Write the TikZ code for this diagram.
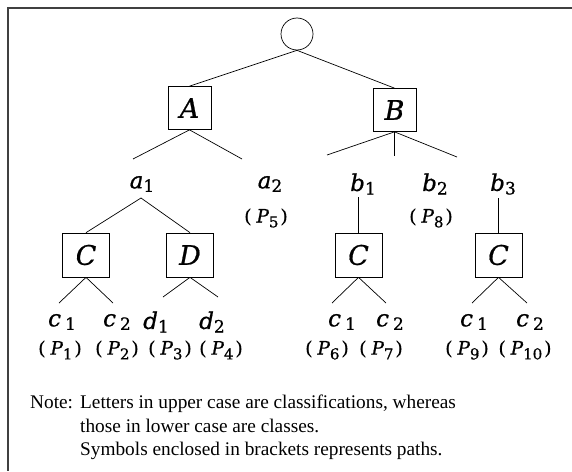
\documentclass[tikz,border=0pt]{standalone}
\usepackage{fontspec}
\setmainfont{Liberation Serif}
\newfontfamily\lblfont[FakeBold=0.8]{DejaVu Serif}
\usetikzlibrary{calc}
\newcommand{\lsub}[1]{\raisebox{-0.3ex}{\fontsize{17}{17}\selectfont\upshape #1}}
\newcommand{\psub}[1]{\raisebox{-0.5ex}{\fontsize{15}{15}\selectfont\upshape #1}}
\newcommand{\pth}[2]{(\hspace{5pt}{\itshape #1}\psub{#2}\hspace{2pt})}
\begin{document}
\begin{tikzpicture}[x=1pt,y=-1pt,
  frame/.style={draw=black!75,line width=1.4pt},
  conn/.style={draw=black,line width=0.7pt},
  cls/.style={draw=black,line width=0.7pt,minimum width=43pt,minimum height=43pt,inner sep=0pt,font=\lblfont\fontsize{27}{27}\selectfont\itshape},
  clsw/.style={cls,minimum width=47pt,minimum height=44pt},
  lbl/.style={inner sep=0pt,font=\lblfont\fontsize{23}{23}\selectfont\itshape},
  pathlbl/.style={inner sep=0pt,font=\lblfont\fontsize{18.5}{18.5}\selectfont},
  note/.style={inner sep=0pt,anchor=base west,font=\fontsize{19.3}{19.3}\selectfont}]
\useasboundingbox (0,0) rectangle (572,471);
\fill[white] (0,0) rectangle (572,471);
\draw[frame] (572,8) -- (8,8) -- (8,471);
% root
\node[draw,circle,line width=0.7pt,minimum size=32pt,inner sep=0pt] (root) at (297,34) {};
\node[cls] (A) at (189.5,108) {A};
\node[cls] (B) at (394.5,110) {B};
\draw[conn] (root.south) -- (A.north);
\draw[conn] (root.south) -- (B.north);
% level labels
\node[lbl] (a1) at (142,184) {a\lsub{1}};
\node[lbl] (a2) at (270,184) {a\lsub{2}};
\node[pathlbl] (p5) at (266,218) {\pth{P}{5}};
\node[lbl] (b1) at (363,184) {b\lsub{1}};
\node[lbl] (b2) at (435,184) {b\lsub{2}};
\node[lbl] (b3) at (503,184) {b\lsub{3}};
\node[pathlbl] (p8) at (431,218) {\pth{P}{8}};
\coordinate (a1e) at (133,159);
\coordinate (a2e) at (242,159);
\coordinate (b1e) at (327,155);
\coordinate (b2e) at (394.5,156);
\coordinate (b3e) at (457,157);
\draw[conn] (A.south) -- (a1e);
\draw[conn] (A.south) -- (a2e);
\draw[conn] (B.south) -- (b1e);
\draw[conn] (B.south) -- (b2e);
\draw[conn] (B.south) -- (b3e);
% second-level boxes
\node[clsw] (C1) at (86,255) {C};
\node[clsw] (D) at (190,255) {D};
\node[clsw] (C2) at (358.5,255) {C};
\node[clsw] (C3) at (498.5,255) {C};
\coordinate (a1s) at (141,198);
\coordinate (b1s) at (358.5,197);
\coordinate (b3s) at (498.5,198);
\draw[conn] (a1s) -- (C1.north);
\draw[conn] (a1s) -- (D.north);
\draw[conn] (b1s) -- (C2.north);
\draw[conn] (b3s) -- (C3.north);
% leaves
\node[lbl] (l1) at (62,322) {c\hspace{4pt}\lsub{1}};
\node[lbl] (l2) at (117,322) {c\hspace{4pt}\lsub{2}};
\node[lbl] (l3) at (156,322) {d\lsub{1}};
\node[lbl] (l4) at (212,322) {d\lsub{2}};
\node[lbl] (l6) at (342,322) {c\hspace{4pt}\lsub{1}};
\node[lbl] (l7) at (390,322) {c\hspace{4pt}\lsub{2}};
\node[lbl] (l9) at (474,322) {c\hspace{4pt}\lsub{1}};
\node[lbl] (l10) at (530,322) {c\hspace{4pt}\lsub{2}};
\node[pathlbl] (p1) at (60,350) {\pth{P}{1}};
\node[pathlbl] (p2) at (117,350) {\pth{P}{2}};
\node[pathlbl] (p3) at (170,350) {\pth{P}{3}};
\node[pathlbl] (p4) at (221,350) {\pth{P}{4}};
\node[pathlbl] (p6) at (327,350) {\pth{P}{6}};
\node[pathlbl] (p7) at (381,350) {\pth{P}{7}};
\node[pathlbl] (p9) at (467,350) {\pth{P}{9}};
\node[pathlbl] (p10) at (525,350) {\pth{P}{10}};
\coordinate (l1e) at (59,303);
\coordinate (l2e) at (113,303);
\coordinate (l3e) at (163,297);
\coordinate (l4e) at (218,297);
\coordinate (l6e) at (332,303);
\coordinate (l7e) at (386,303);
\coordinate (l9e) at (472,303);
\coordinate (l10e) at (527,303);
\draw[conn] (C1.south) -- (l1e);
\draw[conn] (C1.south) -- (l2e);
\draw[conn] (D.south) -- (l3e);
\draw[conn] (D.south) -- (l4e);
\draw[conn] (C2.south) -- (l6e);
\draw[conn] (C2.south) -- (l7e);
\draw[conn] (C3.south) -- (l9e);
\draw[conn] (C3.south) -- (l10e);
% note
\node[note] (n0) at (30,408) {Note:};
\node[note] (n1) at (80,408) {Letters in upper case are classifications, whereas};
\node[note] (n2) at (80,432) {those in lower case are classes.};
\node[note] (n3) at (80,455) {Symbols enclosed in brackets represents paths.};
\end{tikzpicture}
\end{document}
